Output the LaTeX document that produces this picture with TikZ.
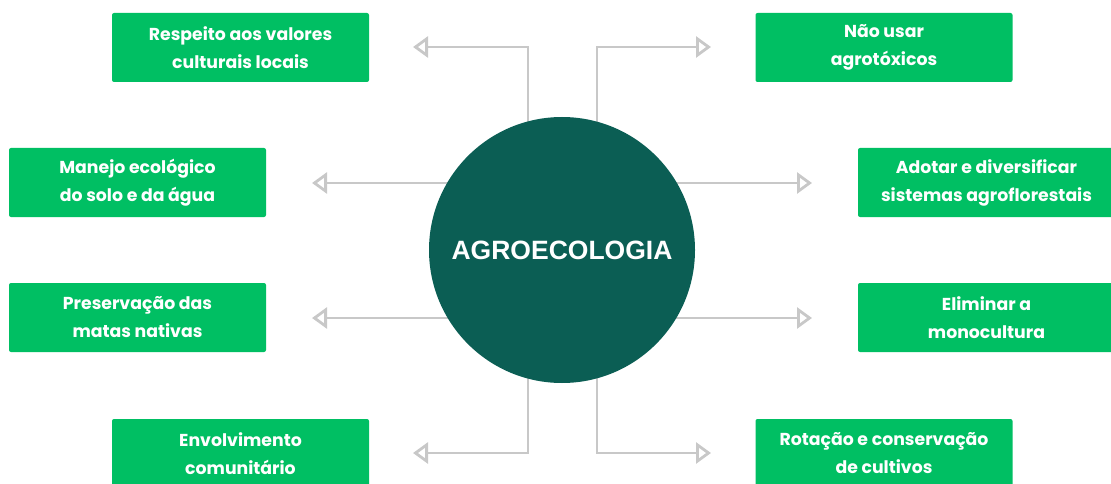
\documentclass[tikz,border=0pt]{standalone}
\usepackage{fontspec}
\setmainfont{Liberation Sans}
\newfontfamily\boxfont{Poppins}
\usetikzlibrary{arrows.meta,backgrounds}
\definecolor{boxgreen}{RGB}{0,191,99}
\definecolor{hubteal}{RGB}{11,94,84}
\definecolor{conngray}{RGB}{200,200,200}
\begin{document}
\begin{tikzpicture}[x=1pt,y=-1pt,
  itembox/.style={fill=boxgreen, rounded corners=2pt, minimum width=257pt, minimum height=69pt,
    inner sep=0pt, align=center, text=white,
    font=\boxfont\bfseries\fontsize{17.3}{28}\selectfont},
  hub/.style={circle, fill=hubteal, minimum size=266pt, inner sep=0pt, text=white,
    font=\bfseries\fontsize{26.5}{30}\selectfont},
  conn/.style={draw=conngray, line width=2.8pt, -{Triangle[open, length=15pt, width=21pt]}}]
\useasboundingbox (0,0) rectangle (1111,484);
\clip (0,0) rectangle (1111,484);

% hub
\node[hub] (c) at (562,250) {AGROECOLOGIA};

% item boxes
\node[itembox] (b1) at (240.5,47.5) {Respeito aos valores\\culturais locais};
\node[itembox] (b2) at (884,47.5) {Não usar\\agrotóxicos};
\node[itembox] (b3) at (137.5,182.5) {Manejo ecológico\\do solo e da água};
\node[itembox] (b4) at (986.5,182.5) {Adotar e diversificar\\sistemas agroflorestais};
\node[itembox] (b5) at (137.5,317.5) {Preservação das\\matas nativas};
\node[itembox] (b6) at (986.5,317.5) {Eliminar a\\monocultura};
\node[itembox] (b7) at (240.5,453.5) {Envolvimento\\comunitário};
\node[itembox] (b8) at (884,453.5) {Rotação e conservação\\de cultivos};

% arrow tips
\coordinate (t1) at (413,47);
\coordinate (t2) at (711,47);
\coordinate (t3) at (312,183);
\coordinate (t4) at (812,183);
\coordinate (t5) at (312,318);
\coordinate (t6) at (812,318);
\coordinate (t7) at (413,453);
\coordinate (t8) at (711,453);

\begin{pgfonlayer}{background}
  \draw[conn] ([xshift=-34pt]c.center) |- (t1);
  \draw[conn] ([xshift=35pt]c.center) |- (t2);
  \draw[conn] (c.center |- t3) -- (t3);
  \draw[conn] (c.center |- t4) -- (t4);
  \draw[conn] (c.center |- t5) -- (t5);
  \draw[conn] (c.center |- t6) -- (t6);
  \draw[conn] ([xshift=-34pt]c.center) |- (t7);
  \draw[conn] ([xshift=35pt]c.center) |- (t8);
\end{pgfonlayer}
\end{tikzpicture}
\end{document}
